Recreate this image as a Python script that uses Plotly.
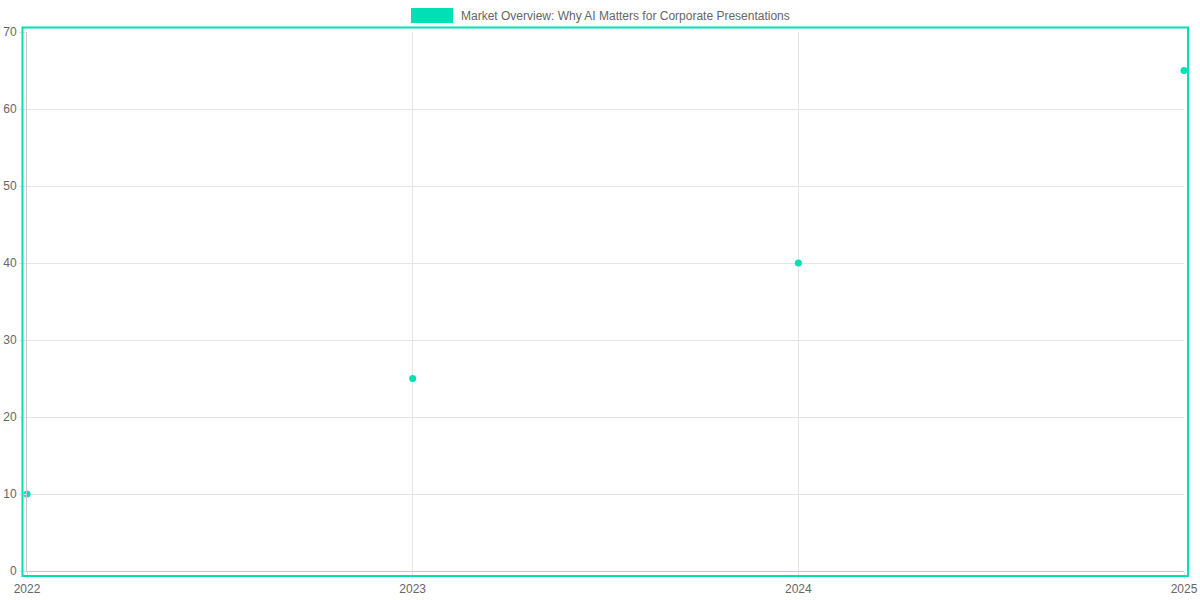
import plotly.graph_objects as go

# data
years = [2022, 2023, 2024, 2025]
values = [10, 25, 40, 65]
series_name = "Market Overview: Why AI Matters for Corporate Presentations"

teal = "#00E0B4"
grey_text = "#666666"
grid = "#e5e5e5"

fig = go.Figure(go.Scatter(
    x=years,
    y=values,
    mode="markers",
    name=series_name,
    marker=dict(color=teal, size=7),
    showlegend=False,
    cliponaxis=False,
))

fig.update_layout(
    width=1200,
    height=600,
    margin=dict(l=27, r=16, t=32, b=29, autoexpand=False),
    paper_bgcolor="white",
    plot_bgcolor="white",
    font=dict(family="Liberation Sans, Arial, sans-serif", size=12, color=grey_text),
    xaxis=dict(
        range=[2022, 2025],
        tickvals=years,
        ticktext=[str(y) for y in years],
        showgrid=True,
        gridcolor=grid,
        ticks="outside",
        ticklen=7,
        tickcolor=grid,
        showline=True,
        linecolor="#c8c8c8",
        zeroline=False,
        automargin=False,
    ),
    yaxis=dict(
        range=[0, 70],
        dtick=10,
        showgrid=True,
        gridcolor=grid,
        ticks="outside",
        ticklen=7,
        tickcolor=grid,
        showline=True,
        linecolor="#c8c8c8",
        zeroline=False,
        automargin=False,
    ),
    shapes=[
        # teal frame around the chart area
        dict(type="rect", xref="paper", yref="paper",
             x0=-0.0039, x1=1.0035, y0=-0.0093, y1=1.0084,
             line=dict(color=teal, width=2), fillcolor="rgba(0,0,0,0)", layer="above"),
        # legend swatch
        dict(type="rect", xref="paper", yref="paper",
             x0=(411 - 27) / 1157, x1=(453 - 27) / 1157,
             y0=(571 - 23) / 539, y1=(571 - 8) / 539,
             line=dict(width=0), fillcolor=teal),
    ],
    annotations=[
        dict(text=series_name, xref="paper", yref="paper",
             x=(459 - 27) / 1157, y=(571 - 15.5) / 539,
             xanchor="left", yanchor="middle", showarrow=False,
             font=dict(size=12, color=grey_text)),
    ],
)

# drop the default page margin so the figure sits at the window corner
fig.write_html("out.html", config={"displayModeBar": False},
               post_script="document.body.style.margin = '0';")
